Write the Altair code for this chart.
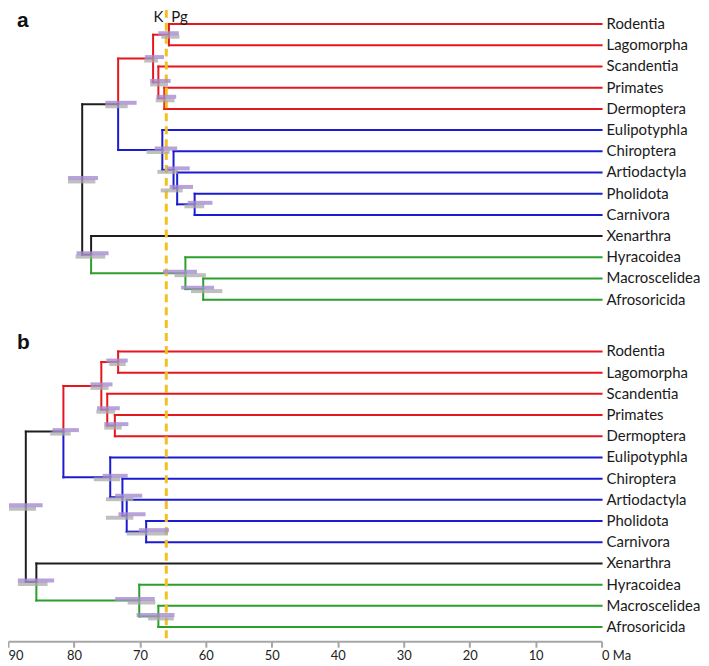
import altair as alt
import pandas as pd

# ---------------- data ----------------
tips = ["Rodentia", "Lagomorpha", "Scandentia", "Primates", "Dermoptera",
        "Eulipotyphla", "Chiroptera", "Artiodactyla", "Pholidota", "Carnivora",
        "Xenarthra", "Hyracoidea", "Macroscelidea", "Afrosoricida"]
tip_groups = ["Euarchontoglires"] * 5 + ["Laurasiatheria"] * 5 + ["Xenarthra"] + ["Afrotheria"] * 3
group_colors = {"Euarchontoglires": "#e6161d", "Laurasiatheria": "#1b1bd2",
                "Xenarthra": "#1e1e1e", "Afrotheria": "#2c9e2c"}
mixed_color = "#1e1e1e"

node_names = ["Glires", "PD", "Euarchonta", "Euarchontoglires", "PC", "Fereuungulata",
              "Scrotifera", "Laurasiatheria", "Boreoeutheria", "MA", "Afrotheria",
              "Atlantogenata", "Root"]
node_child1 = ["Rodentia", "Primates", "Scandentia", "Glires", "Pholidota", "Artiodactyla",
               "Chiroptera", "Eulipotyphla", "Euarchontoglires", "Macroscelidea", "Hyracoidea",
               "Xenarthra", "Boreoeutheria"]
node_child2 = ["Lagomorpha", "Dermoptera", "PD", "Euarchonta", "Carnivora", "PC",
               "Fereuungulata", "Scrotifera", "Laurasiatheria", "Afrosoricida", "MA",
               "Afrotheria", "Atlantogenata"]

# node ages (Ma)
ages_a = [65.6, 66.3, 67.2, 68.0, 61.7, 64.35, 64.9, 66.6, 73.3, 60.4, 63.1, 77.4, 78.75]
ages_b = [73.3, 73.8, 74.95, 75.85, 69.05, 72.0, 72.65, 74.5, 81.6, 67.2, 70.1, 85.7, 87.3]

# credibility intervals (purple and grey bars)
purple_lo_a = [64.1, 64.5, 65.35, 66.35, 59.0, 61.95, 62.45, 64.35, 70.5, 58.75, 61.35, 74.75, 76.35]
purple_hi_a = [67.2, 67.5, 68.45, 69.25, 62.75, 65.5, 65.9, 67.75, 75.25, 63.75, 66.5, 79.6, 80.9]
grey_lo_a = [64.0, 64.75, 65.75, 67.25, 60.25, 63.5, 64.25, 65.5, 71.85, 57.5, 60.0, 75.25, 76.75]
grey_hi_a = [66.75, 67.6, 68.45, 69.35, 63.25, 66.85, 67.35, 69.0, 75.25, 62.25, 64.75, 79.75, 80.9]

purple_lo_b = [71.85, 71.75, 73.05, 74.15, 65.6, 69.15, 69.65, 71.85, 79.25, 64.75, 67.75, 83.0, 84.75]
purple_hi_b = [75.1, 75.4, 76.5, 77.5, 70.15, 73.25, 73.75, 75.65, 83.25, 70.5, 73.75, 88.5, 89.85]
grey_lo_b = [72.15, 72.75, 73.75, 74.75, 65.75, 71.0, 71.0, 73.0, 80.5, 64.85, 67.65, 84.0, 85.75]
grey_hi_b = [74.65, 75.4, 76.6, 77.5, 72.0, 75.15, 75.15, 77.0, 83.6, 68.75, 71.85, 88.5, 89.85]

kpg_age = [66.0]
kpg_labels = ["K", "Pg"]
axis_ticks = [90, 80, 70, 60, 50, 40, 30, 20, 10, 0]
panel_labels = ["a", "b"]

# layout
panel_offset = [0.0, 15.44]
panel_label_row = [-0.671, 14.52]

# ---------------- build tables ----------------
seg_rows, bar_rows, tip_rows = [], [], []
panels = [
    (ages_a, purple_lo_a, purple_hi_a, grey_lo_a, grey_hi_a),
    (ages_b, purple_lo_b, purple_hi_b, grey_lo_b, grey_hi_b),
]
for p, (ages, plo, phi, glo, ghi) in enumerate(panels):
    off = panel_offset[p]
    y = {t: off + i for i, t in enumerate(tips)}
    age = {t: 0.0 for t in tips}
    col = {t: group_colors[g] for t, g in zip(tips, tip_groups)}
    for n, c1, c2, a in zip(node_names, node_child1, node_child2, ages):
        y[n] = (y[c1] + y[c2]) / 2
        age[n] = a
        col[n] = col[c1] if col[c1] == col[c2] else mixed_color
    for n, c1, c2 in zip(node_names, node_child1, node_child2):
        for c in (c1, c2):
            seg_rows.append(dict(x=age[n], x2=age[n], y=y[n], y2=y[c], color=col[c]))
            seg_rows.append(dict(x=age[n], x2=age[c], y=y[c], y2=y[c], color=col[c]))
    for n, a1, a2, b1, b2 in zip(node_names, plo, phi, glo, ghi):
        bar_rows.append(dict(lo=a1, hi=a2, y=y[n], kind="purple"))
        bar_rows.append(dict(lo=b1, hi=b2, y=y[n], kind="grey"))
    for t in tips:
        tip_rows.append(dict(name=t, x=0.0, y=y[t]))

seg_df = pd.DataFrame(seg_rows)
bar_df = pd.DataFrame(bar_rows)
tip_df = pd.DataFrame(tip_rows)
kpg_df = pd.DataFrame({"age": kpg_age * 2, "label": kpg_labels})
panel_df = pd.DataFrame({"label": panel_labels, "y": panel_label_row})

x_scale = alt.Scale(domain=[90, 0], nice=False, zero=False)
y_scale = alt.Scale(domain=[-0.671, 29.11], reverse=True, nice=False, zero=False)

x_axis = alt.Axis(
    values=axis_ticks, title=None, grid=False,
    labelExpr="datum.value == 0 ? '0 Ma' : datum.label",
    labelAlign={"expr": "(datum.value == 0 || datum.value == 90) ? 'left' : 'center'"},
    domainColor="#a6a6a6", domainWidth=2, tickColor="#a6a6a6", tickWidth=2, tickSize=6,
    labelFont="Lato", labelFontSize=13, labelColor="#222222", labelPadding=2,
)

lines = alt.Chart(seg_df).mark_rule(strokeWidth=2, strokeCap="square").encode(
    x=alt.X("x:Q", scale=x_scale, axis=x_axis),
    x2="x2:Q",
    y=alt.Y("y:Q", scale=y_scale, axis=None),
    y2="y2:Q",
    color=alt.Color("color:N", scale=None),
)

kpg_line = alt.Chart(kpg_df.head(1)).mark_rule(
    color="#f4c020", strokeWidth=3, strokeDash=[8, 5]
).encode(x="age:Q")

grey_bars = alt.Chart(bar_df[bar_df.kind == "grey"]).mark_rule(
    strokeWidth=4, color="#a9a9a9", opacity=0.75, yOffset=2
).encode(x="lo:Q", x2="hi:Q", y="y:Q")

purple_bars = alt.Chart(bar_df[bar_df.kind == "purple"]).mark_rule(
    strokeWidth=4, color="#a58bd0", opacity=0.8, yOffset=-1.5
).encode(x="lo:Q", x2="hi:Q", y="y:Q")

tip_text = alt.Chart(tip_df).mark_text(
    align="left", baseline="middle", dx=5, font="Lato", fontSize=15, color="#1a1a1a"
).encode(x="x:Q", y="y:Q", text="name:N")

k_text = alt.Chart(kpg_df[kpg_df.label == "K"]).mark_text(
    align="right", baseline="top", dx=-3, dy=0, font="Lato", fontSize=15, color="#1a1a1a"
).encode(x="age:Q", y=alt.value(0), text="label:N")

pg_text = alt.Chart(kpg_df[kpg_df.label == "Pg"]).mark_text(
    align="left", baseline="top", dx=5, dy=0, font="Lato", fontSize=15, color="#1a1a1a"
).encode(x="age:Q", y=alt.value(0), text="label:N")

panel_text = alt.Chart(panel_df).mark_text(
    align="left", baseline="top", font="Liberation Sans", fontWeight="bold",
    fontSize=21, color="#111111"
).encode(x=alt.value(9), y="y:Q", text="label:N")

chart = alt.layer(
    lines, kpg_line, grey_bars, purple_bars, tip_text, k_text, pg_text, panel_text
).properties(
    width=597, height=635,
    autosize=alt.AutoSizeParams(type="none"),
    padding={"left": 0, "top": 0, "right": 100, "bottom": 23},
).configure_view(stroke=None)

chart.save("out.html", embed_options={"renderer": "svg", "actions": False})
